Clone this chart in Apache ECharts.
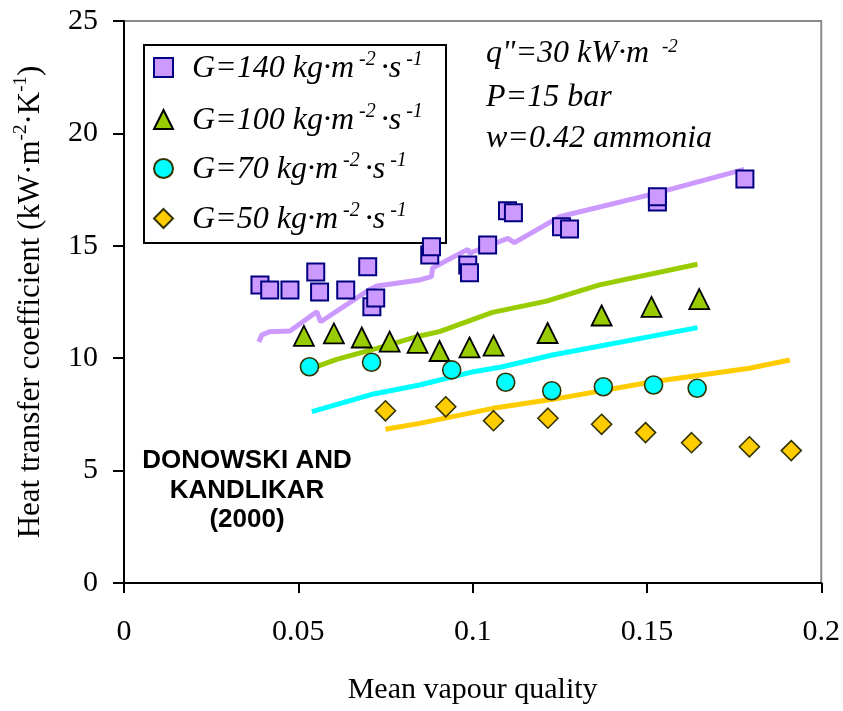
<!DOCTYPE html>
<html>
<head>
<meta charset="utf-8">
<script src="https://cdn.jsdelivr.net/npm/echarts@6/dist/echarts.min.js"></script>
<style>
html,body{margin:0;padding:0;background:#fff;}
#chart{width:843px;height:711px;}
</style>
</head>
<body>
<div id="chart"></div>
<script>
// ---- data ----
const xTickValues = [0, 0.05, 0.1, 0.15, 0.2];
const xTickLabels = ['0', '0.05', '0.1', '0.15', '0.2'];
const yTickValues = [0, 5, 10, 15, 20, 25];
const yTickLabels = ['0', '5', '10', '15', '20', '25'];

const seriesNames = ['G=140', 'G=100', 'G=70', 'G=50'];

const g140X = [0.0390, 0.0418, 0.0476, 0.0550, 0.0561, 0.0636, 0.0699, 0.0711, 0.0722, 0.0877, 0.0882, 0.0986, 0.0991, 0.1043, 0.1100, 0.1117, 0.1255, 0.1278, 0.1530, 0.1530, 0.1781];
const g140Y = [13.26, 13.03, 13.03, 13.83, 12.94, 13.03, 14.07, 12.29, 12.68, 14.59, 14.96, 14.15, 13.80, 15.04, 16.56, 16.47, 15.85, 15.75, 16.95, 17.18, 17.97];

const g100X = [0.0516, 0.0602, 0.0682, 0.0762, 0.0842, 0.0905, 0.0991, 0.1060, 0.1215, 0.1370, 0.1513, 0.1650];
const g100Y = [10.99, 11.10, 10.92, 10.74, 10.68, 10.32, 10.48, 10.56, 11.12, 11.90, 12.28, 12.63];

const g70X = [0.0532, 0.0710, 0.0940, 0.1095, 0.1227, 0.1375, 0.1519, 0.1644];
const g70Y = [9.62, 9.82, 9.48, 8.93, 8.55, 8.73, 8.81, 8.66];

const g50X = [0.0750, 0.0923, 0.1060, 0.1216, 0.1370, 0.1496, 0.1628, 0.1794, 0.1914];
const g50Y = [7.66, 7.84, 7.22, 7.33, 7.06, 6.69, 6.24, 6.06, 5.89];

// predicted curves
const p140X = [0.0387, 0.0395, 0.0418, 0.0476, 0.0553, 0.0564, 0.0702, 0.0725, 0.0848, 0.0882, 0.0885, 0.0986, 0.0991, 0.1101, 0.1120, 0.1249, 0.1516, 0.1779];
const p140Y = [10.72, 11.03, 11.18, 11.21, 12.07, 11.62, 13.03, 13.21, 13.48, 13.63, 14.01, 14.84, 14.67, 15.33, 15.14, 16.29, 17.30, 18.40];

const p100X = [0.0519, 0.0562, 0.0610, 0.0725, 0.0848, 0.0905, 0.1057, 0.1212, 0.1364, 0.1645];
const p100Y = [9.39, 9.68, 9.95, 10.44, 10.99, 11.18, 12.04, 12.54, 13.26, 14.18];

const p70X = [0.0539, 0.0716, 0.0848, 0.1003, 0.1086, 0.1229, 0.1645];
const p70Y = [7.62, 8.41, 8.81, 9.40, 9.62, 10.14, 11.36];

const p50X = [0.0750, 0.0848, 0.1058, 0.1230, 0.1517, 0.1794, 0.1910];
const p50Y = [6.84, 7.10, 7.77, 8.17, 8.95, 9.55, 9.92];

// ---- build ----
const zip = (xs, ys) => xs.map((x, i) => [x, ys[i]]);
const serif = '"Liberation Serif","Times New Roman",serif';
const colors = {p: '#CC99FF', g: '#99CC00', c: '#00FFFF', o: '#FFCC00'};

function lineSeries(name, xs, ys, color) {
  return {
    name: name, type: 'line', data: zip(xs, ys), showSymbol: false, symbol: 'none',
    lineStyle: {color: color, width: 5}, z: 2, silent: true
  };
}
function scatterSeries(name, xs, ys, symbol, size, fill, border, bw) {
  return {
    name: name, type: 'scatter', data: zip(xs, ys), symbol: symbol, symbolSize: size,
    symbolKeepAspect: true,
    itemStyle: {color: fill, borderColor: border, borderWidth: bw, opacity: 1}, z: 5
  };
}

const legendRich = {
  sp: {width: 14, fontSize: 10, lineHeight: 34},
  a: {fontFamily: serif, fontStyle: 'italic', fontSize: 32, color: '#000', verticalAlign: 'bottom', lineHeight: 35},
  s: {fontFamily: serif, fontStyle: 'italic', fontSize: 20, color: '#000', verticalAlign: 'top', lineHeight: 20}
};
const legendTops = [50, 102, 151, 201];
const legends = seriesNames.map((n, i) => ({
  data: [n], left: 153, top: legendTops[i], orient: 'vertical', padding: 0,
  itemWidth: 19, itemHeight: 19, selectedMode: false, symbolKeepAspect: true,
  formatter: name => '{sp|}{a|' + name + ' kg·m}{s| -2 }{a|·s}{s| -1}',
  textStyle: {rich: legendRich, lineHeight: 40}
}));

const chart = echarts.init(document.getElementById('chart'), null, {renderer: 'canvas'});
const option = {
  backgroundColor: '#fff',
  animation: false,
  grid: {left: 124, right: 21, top: 21, bottom: 128, show: true, borderColor: '#8a8a8a', borderWidth: 2, containLabel: false},
  legend: legends,
  xAxis: {
    type: 'value', min: 0, max: 0.2, interval: 0.05,
    name: 'Mean vapour quality', nameLocation: 'middle', nameGap: 92,
    nameTextStyle: {fontFamily: serif, fontSize: 30, color: '#000'},
    axisLine: {show: true, onZero: false, lineStyle: {color: '#000', width: 2}},
    axisTick: {show: true, length: 10, lineStyle: {color: '#000', width: 2}},
    axisLabel: {margin: 34, fontFamily: serif, fontSize: 30, color: '#000',
      formatter: v => { const k = xTickValues.findIndex(t => Math.abs(t - v) < 1e-9); return k >= 0 ? xTickLabels[k] : ''; }},
    splitLine: {show: false}
  },
  yAxis: {
    type: 'value', min: 0, max: 25, interval: 5,
    name: '{a|Heat transfer coefficient (kW·m}{s|-2}{a|·K}{s|-1}{a|)}',
    nameLocation: 'middle', nameGap: 78, nameRotate: 90,
    nameTextStyle: {
      rich: {
        a: {fontFamily: serif, fontSize: 31, color: '#000', verticalAlign: 'bottom', lineHeight: 34},
        s: {fontFamily: serif, fontSize: 19, color: '#000', verticalAlign: 'top', lineHeight: 20}
      }
    },
    axisLine: {show: true, onZero: false, lineStyle: {color: '#000', width: 2}},
    axisTick: {show: true, length: 11, lineStyle: {color: '#000', width: 2}},
    axisLabel: {margin: 26, fontFamily: serif, fontSize: 30, color: '#000',
      formatter: v => { const k = yTickValues.indexOf(v); return k >= 0 ? yTickLabels[k] : ''; }},
    splitLine: {show: false}
  },
  graphic: [
    {type: 'rect', shape: {x: 144, y: 45, width: 302, height: 198}, style: {fill: '#fff', stroke: '#000', lineWidth: 2}, z: 1, silent: true},
    {type: 'text', x: 486, y: 54, style: {text: 'q"=30 kW·m', font: 'italic 32px ' + serif, fill: '#000', textAlign: 'left', textVerticalAlign: 'middle'}, z: 10},
    {type: 'text', x: 662, y: 47, style: {text: '-2', font: 'italic 19px ' + serif, fill: '#000', textAlign: 'left', textVerticalAlign: 'middle'}, z: 10},
    {type: 'text', x: 486, y: 98, style: {text: 'P=15 bar', font: 'italic 32px ' + serif, fill: '#000', textAlign: 'left', textVerticalAlign: 'middle'}, z: 10},
    {type: 'text', x: 486, y: 139, style: {text: 'w=0.42 ammonia', font: 'italic 32px ' + serif, fill: '#000', textAlign: 'left', textVerticalAlign: 'middle'}, z: 10},
    {type: 'text', x: 247, y: 461, style: {text: 'DONOWSKI AND', font: 'bold 26px "Liberation Sans",Arial,sans-serif', fill: '#000', textAlign: 'center', textVerticalAlign: 'middle'}, z: 10},
    {type: 'text', x: 247, y: 491, style: {text: 'KANDLIKAR', font: 'bold 26px "Liberation Sans",Arial,sans-serif', fill: '#000', textAlign: 'center', textVerticalAlign: 'middle'}, z: 10},
    {type: 'text', x: 247, y: 520, style: {text: '(2000)', font: 'bold 26px "Liberation Sans",Arial,sans-serif', fill: '#000', textAlign: 'center', textVerticalAlign: 'middle'}, z: 10}
  ],
  series: [
    lineSeries('pred140', p140X, p140Y, colors.p),
    lineSeries('pred100', p100X, p100Y, colors.g),
    lineSeries('pred70', p70X, p70Y, colors.c),
    lineSeries('pred50', p50X, p50Y, colors.o),
    scatterSeries(seriesNames[0], g140X, g140Y, 'rect', 17, colors.p, '#000080', 2),
    scatterSeries(seriesNames[1], g100X, g100Y, 'triangle', 20, colors.g, '#000', 1.8),
    scatterSeries(seriesNames[2], g70X, g70Y, 'circle', 18, colors.c, '#333300', 1.6),
    scatterSeries(seriesNames[3], g50X, g50Y, 'diamond', 20, colors.o, '#333300', 1.6)
  ]
};
chart.setOption(option);
</script>
</body>
</html>
